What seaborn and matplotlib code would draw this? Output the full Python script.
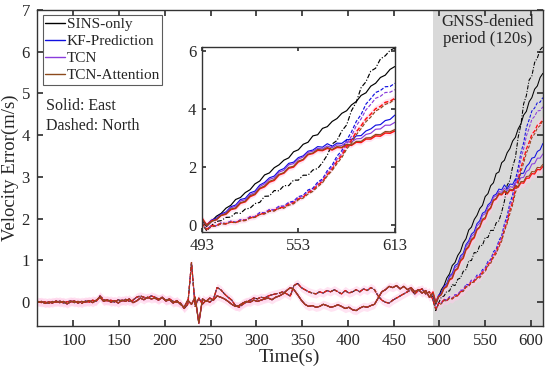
import numpy as np
import pandas as pd
import matplotlib
matplotlib.use("Agg")
import matplotlib.pyplot as plt
from matplotlib.lines import Line2D
import seaborn as sns

# time grids (s)
t_pre = np.arange(61, 493, 4)
t_den = np.arange(493, 614, 3)

# GNSS available: all methods coincide
pre_east = [0.0, 0.02, -0.03, 0.01, -0.02, 0.03, -0.01, 0.02, -0.04, 0.01,
            0.03, -0.02, 0.02, 0.0, 0.04, -0.01, 0.05, 0.12, 0.02, 0.06,
            0.0, 0.04, -0.02, 0.05, 0.02, 0.08, -0.01, 0.03, 0.1, 0.06,
            0.12, 0.08, 0.1, 0.05, 0.12, 0.03, 0.06, -0.02, 0.04, -0.05,
            -0.12, 0.05, -0.05, 0.12, -0.5, 0.08, 0.02, 0.1, 0.05, 0.15,
            0.12, 0.08, 0.02, -0.05, -0.1, -0.08, -0.02, 0.02, 0.0, 0.05,
            0.02, 0.05, 0.08, 0.1, 0.06, 0.12, 0.15, 0.2, 0.28, 0.35,
            0.3, 0.18, 0.05, -0.05, -0.1, -0.08, -0.12, -0.1, -0.05, -0.08,
            -0.12, -0.1, -0.06, -0.1, -0.15, -0.12, -0.18, -0.2, -0.14, -0.1,
            -0.12, -0.08, -0.05, 0.1, 0.25, 0.3, 0.38, 0.35, 0.4, 0.32,
            0.38, 0.3, 0.35, 0.25, 0.3, 0.22, 0.28, 0.12]
pre_north = [0.02, -0.01, 0.01, -0.03, 0.02, 0.0, 0.03, -0.02, 0.01, 0.03,
             -0.01, 0.02, -0.03, 0.03, 0.0, 0.05, 0.02, 0.15, 0.06, 0.03,
             0.05, 0.0, 0.06, 0.03, 0.07, 0.02, 0.05, 0.12, 0.15, 0.12,
             0.1, 0.15, 0.12, 0.08, 0.1, 0.05, 0.08, 0.02, 0.0, -0.02,
             -0.15, -0.05, 0.95, -0.1, 0.1, -0.05, 0.05, 0.0, 0.08, 0.35,
             0.3, 0.2, 0.12, 0.05, -0.08, -0.12, -0.05, 0.0, 0.05, 0.1,
             0.08, 0.12, 0.1, 0.15, 0.18, 0.2, 0.22, 0.25, 0.2, 0.15,
             0.4, 0.45, 0.35, 0.3, 0.25, 0.22, 0.2, 0.25, 0.22, 0.28,
             0.25, 0.3, 0.25, 0.2, 0.28, 0.22, 0.25, 0.3, 0.25, 0.32,
             0.28, 0.35, 0.3, 0.15, 0.05, 0.0, -0.02, 0.05, 0.1, 0.15,
             0.2, 0.25, 0.3, 0.2, 0.28, 0.32, 0.2, 0.25]

# GNSS-denied period (493-613 s)
sins_e = [0.15, -0.05, 0.12, 0.3, 0.4, 0.58, 0.68, 0.88, 0.95, 1.12, 1.22, 1.42, 1.52, 1.73,
          1.8, 1.98, 2.08, 2.24, 2.32, 2.53, 2.6, 2.79, 2.86, 3.08, 3.12, 3.34, 3.4, 3.58,
          3.68, 3.86, 3.95, 4.15, 4.27, 4.48, 4.57, 4.8, 4.9, 5.1, 5.18, 5.38, 5.48]
sins_n = [0.05, -0.2, -0.02, 0.12, 0.15, 0.26, 0.27, 0.42, 0.4, 0.55, 0.58, 0.74, 0.78, 0.99,
          1.0, 1.19, 1.18, 1.36, 1.36, 1.55, 1.55, 1.72, 1.72, 1.9, 1.95, 2.16, 2.42, 2.8,
          2.92, 3.25, 3.46, 3.95, 4.25, 4.75, 4.95, 5.32, 5.42, 5.74, 5.85, 6.04, 6.12]
kf_e = [0.2, 0.0, 0.17, 0.23, 0.38, 0.45, 0.63, 0.69, 0.88, 0.92, 1.11, 1.17, 1.38, 1.47,
        1.63, 1.69, 1.88, 1.95, 2.13, 2.17, 2.33, 2.39, 2.55, 2.59, 2.71, 2.69, 2.81, 2.72,
        2.83, 2.82, 2.95, 2.95, 3.08, 3.09, 3.25, 3.32, 3.45, 3.47, 3.61, 3.65, 3.8]
kf_n = [0.05, -0.15, -0.03, -0.02, 0.07, 0.05, 0.13, 0.09, 0.18, 0.17, 0.28, 0.29, 0.43, 0.42,
        0.53, 0.52, 0.65, 0.65, 0.78, 0.82, 0.98, 1.02, 1.21, 1.27, 1.48, 1.59, 1.88, 2.07,
        2.38, 2.57, 2.93, 3.22, 3.58, 3.82, 4.18, 4.37, 4.58, 4.65, 4.78, 4.79, 4.9]
tcn_e = [0.2, -0.02, 0.14, 0.2, 0.35, 0.42, 0.59, 0.65, 0.83, 0.87, 1.05, 1.12, 1.33, 1.42,
         1.58, 1.63, 1.83, 1.89, 2.08, 2.12, 2.28, 2.35, 2.51, 2.55, 2.65, 2.63, 2.73, 2.67,
         2.77, 2.75, 2.87, 2.87, 2.98, 2.99, 3.13, 3.17, 3.31, 3.32, 3.45, 3.45, 3.55]
tcn_n = [0.05, -0.15, -0.03, -0.02, 0.06, 0.04, 0.13, 0.09, 0.18, 0.17, 0.29, 0.29, 0.41, 0.41,
         0.53, 0.52, 0.63, 0.63, 0.75, 0.79, 0.95, 0.99, 1.17, 1.22, 1.43, 1.55, 1.83, 1.99,
         2.28, 2.47, 2.81, 3.07, 3.43, 3.67, 3.98, 4.17, 4.38, 4.45, 4.58, 4.59, 4.68]
att_e = [0.22, -0.02, 0.12, 0.18, 0.33, 0.39, 0.55, 0.59, 0.77, 0.82, 1.01, 1.07, 1.27, 1.35,
         1.51, 1.57, 1.75, 1.81, 1.99, 2.03, 2.21, 2.27, 2.45, 2.49, 2.61, 2.59, 2.68, 2.61,
         2.71, 2.69, 2.79, 2.77, 2.89, 2.89, 3.01, 3.02, 3.13, 3.12, 3.23, 3.22, 3.3]
att_n = [0.05, -0.18, -0.06, -0.04, 0.04, 0.03, 0.1, 0.08, 0.14, 0.15, 0.24, 0.26, 0.36, 0.38,
         0.47, 0.48, 0.57, 0.58, 0.68, 0.73, 0.87, 0.93, 1.07, 1.16, 1.32, 1.46, 1.7, 1.88,
         2.12, 2.33, 2.62, 2.83, 3.12, 3.33, 3.57, 3.73, 3.94, 4.03, 4.17, 4.23, 4.35]
ref_e = [0.25, 0.0, 0.14, 0.18, 0.33, 0.37, 0.53, 0.57, 0.75, 0.8, 0.98, 1.05, 1.25, 1.32,
         1.48, 1.54, 1.73, 1.79, 1.96, 2.0, 2.18, 2.25, 2.43, 2.47, 2.58, 2.57, 2.65, 2.59,
         2.68, 2.67, 2.77, 2.75, 2.86, 2.85, 2.97, 2.97, 3.08, 3.07, 3.18, 3.17, 3.25]
ref_n = [0.05, -0.15, -0.03, -0.02, 0.06, 0.04, 0.1, 0.08, 0.15, 0.16, 0.25, 0.27, 0.37, 0.4,
         0.49, 0.5, 0.59, 0.61, 0.72, 0.76, 0.9, 0.96, 1.12, 1.2, 1.38, 1.5, 1.74, 1.93,
         2.2, 2.4, 2.7, 2.93, 3.22, 3.43, 3.67, 3.83, 4.02, 4.1, 4.24, 4.28, 4.38]

labels = ["SINS-only", "KF-Prediction", "TCN", "TCN-Attention"]
colors = {"SINS-only": "#000000", "KF-Prediction": "#1010e0",
          "TCN": "#8a3cdc", "TCN-Attention": "#8c4a1c", "ref": "#ff1010"}

t_all = np.concatenate([t_pre, t_den])
series = [
    ("SINS-only", sins_e, sins_n, "-."),
    ("KF-Prediction", kf_e, kf_n, "--"),
    ("TCN", tcn_e, tcn_n, "--"),
    ("ref", ref_e, ref_n, "--"),
    ("TCN-Attention", att_e, att_n, "--"),
]

sns.set_theme(style="ticks")
plt.rcParams["font.family"] = ["Liberation Serif", "DejaVu Serif"]
plt.rcParams["axes.edgecolor"] = "#333333"
plt.rcParams["axes.linewidth"] = 1.0
plt.rcParams["lines.dashed_pattern"] = (3.0, 1.5)
plt.rcParams["lines.dashdot_pattern"] = (4.0, 1.5, 1.0, 1.5)

fig = plt.figure(figsize=(5.5, 3.8), dpi=100)
ax = fig.add_axes([0.067, 0.142, 0.92, 0.832])
ins = fig.add_axes([0.367, 0.389, 0.351, 0.487])


def draw(a, lw):
    for name, e, n, ls in series:
        ye = np.concatenate([pre_east, e])
        yn = np.concatenate([pre_north, n])
        c = colors[name]
        w = lw * (1.25 if name == "ref" else 1.0)
        if name == "ref":
            for y in (ye, yn):
                a.fill_between(t_all, y - 0.1, y + 0.1, color="#ffcce8", alpha=0.55, lw=0, zorder=1)
        sns.lineplot(x=t_all, y=ye, ax=a, color=c, lw=w, linestyle="-", legend=False, zorder=2)
        sns.lineplot(x=t_all, y=yn, ax=a, color=c, lw=w, linestyle=ls, legend=False, zorder=2)


ax.axvspan(493, 613, color="#d9d9d9", lw=0, zorder=0)
draw(ax, 0.75)
ax.set_xlim(60, 613)
ax.set_ylim(-0.57, 7)
ax.set_xticks(range(100, 601, 50))
ax.set_yticks(range(0, 8))
ax.tick_params(direction="in", top=True, right=True, length=4, labelsize=12, pad=5,
               color="#333333")
ax.set_xlabel("Time(s)", fontsize=14, labelpad=0)
ax.set_ylabel("Velocity Error(m/s)", fontsize=13.5, labelpad=2)

ax.text(553, 6.5, "GNSS-denied\nperiod (120s)", ha="center", va="center", fontsize=12,
        linespacing=1.1)
ax.text(0.018, 0.72, "Solid: East\nDashed: North", transform=ax.transAxes, ha="left",
        va="top", fontsize=11.5, linespacing=1.3)
ax.annotate("", xy=(0.64, 0.555), xycoords="axes fraction", xytext=(0.71, 0.555),
            arrowprops=dict(arrowstyle="-|>", linestyle="-.", color="black", lw=0.8,
                            mutation_scale=7))

handles = [Line2D([], [], color=colors[k], lw=1.0) for k in labels]
leg = ax.legend(handles, labels, loc="upper left", bbox_to_anchor=(0.006, 0.993),
                fontsize=11, frameon=True, fancybox=False, handlelength=1.3,
                handletextpad=0.1, borderpad=0.15, labelspacing=0.22, borderaxespad=0.2)
leg.get_frame().set_edgecolor("#333333")
leg.get_frame().set_linewidth(0.8)

draw(ins, 0.85)
ins.set_xlim(493, 613)
ins.set_ylim(-0.25, 6.15)
ins.set_xticks([493, 553, 613])
ins.set_yticks([0, 2, 4, 6])
ins.set_facecolor("white")
ins.tick_params(direction="in", top=True, right=True, length=3, labelsize=12, pad=4,
                color="#333333")
ins.set_xlabel("")
ins.set_ylabel("")
for s in ins.spines.values():
    s.set_linewidth(1.0)

fig.savefig("out.png", dpi=100)
